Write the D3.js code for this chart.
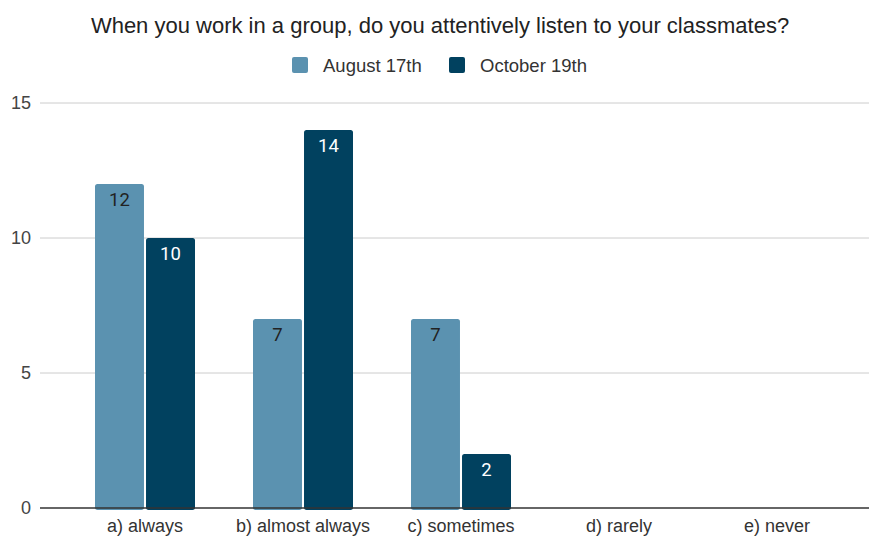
<!DOCTYPE html>
<html>
<head>
<meta charset="utf-8">
<script src="https://cdn.jsdelivr.net/npm/d3@7"></script>
<style>
  body { margin: 0; background: #fff; }
  text { font-family: "Liberation Sans", Arial, sans-serif; }
</style>
</head>
<body>
<div id="chart"></div>
<script>
// chart values
var categories = ['a) always', 'b) almost always', 'c) sometimes', 'd) rarely', 'e) never'];
var seriesNames = ['August 17th', 'October 19th'];
var august = [12, 7, 7, 0, 0];
var october = [10, 14, 2, 0, 0];
var yTicks = [0, 5, 10, 15];
var colors = ['#5b92b0', '#01415f'];

var width = 869, height = 536;

var svg = d3.select('#chart').append('svg')
	.attr('width', width)
	.attr('height', height);

var yScale = d3.scaleLinear()
	.domain([0, 15])
	.range([508, 103]);

var x0 = d3.scaleBand()
	.domain(categories)
	.range([66, 856]);

var x1 = d3.scaleBand()
	.domain(seriesNames)
	.range([0, 100])
	.paddingInner(0.04);

// title
svg.append('text')
	.attr('x', 440)
	.attr('y', 33)
	.attr('text-anchor', 'middle')
	.style('font-size', '22px')
	.style('fill', '#222')
	.text('When you work in a group, do you attentively listen to your classmates?');

// legend
var legend = svg.append('g');
var legendX = [292, 449];
seriesNames.forEach(function(name, i) {
	legend.append('rect')
		.attr('x', legendX[i])
		.attr('y', 57)
		.attr('width', 16)
		.attr('height', 16)
		.attr('rx', 2)
		.attr('fill', colors[i]);
	legend.append('text')
		.attr('x', legendX[i] + 31)
		.attr('y', 72)
		.style('font-size', '18.5px')
		.style('fill', '#333')
		.text(name);
});

// gridlines + y labels
var grid = svg.append('g');
yTicks.forEach(function(t) {
	if (t > 0) {
		grid.append('line')
			.attr('x1', 40).attr('x2', 869)
			.attr('y1', yScale(t)).attr('y2', yScale(t))
			.attr('stroke', '#cccccc')
			.attr('stroke-width', 1);
	}
	grid.append('text')
		.attr('x', 31)
		.attr('y', yScale(t) + 6)
		.attr('text-anchor', 'end')
		.style('font-size', '18px')
		.style('fill', '#444')
		.text(t);
});

// bars
var rows = categories.map(function(c, i) {
	return { cat: c, vals: [august[i], october[i]] };
});

var groups = svg.append('g').selectAll('g')
	.data(rows)
	.enter()
	.append('g')
	.attr('transform', function(d) {
		return 'translate(' + (x0(d.cat) + (x0.bandwidth() - 100) / 2) + ',0)';
	});

var bars = groups.selectAll('g')
	.data(function(d) {
		return d.vals.map(function(v, i) { return { s: seriesNames[i], v: v, i: i }; })
			.filter(function(e) { return e.v > 0; });
	})
	.enter()
	.append('g');

bars.append('rect')
	.attr('x', function(d) { return x1(d.s); })
	.attr('y', function(d) { return yScale(d.v); })
	.attr('width', x1.bandwidth())
	.attr('height', function(d) { return yScale(0) - yScale(d.v) + 2; })
	.attr('rx', 2.5)
	.attr('fill', function(d) { return colors[d.i]; });

bars.append('text')
	.attr('x', function(d) { return x1(d.s) + x1.bandwidth() / 2; })
	.attr('y', function(d) { return yScale(d.v) + 22; })
	.attr('text-anchor', 'middle')
	.style('font-family', 'Roboto, sans-serif')
	.style('font-size', '18.5px')
	.style('fill', function(d) { return d.i === 0 ? '#222' : '#fff'; })
	.text(function(d) { return d.v; });

// baseline
svg.append('line')
	.attr('x1', 40).attr('x2', 869)
	.attr('y1', yScale(0)).attr('y2', yScale(0))
	.attr('stroke', '#333')
	.attr('stroke-width', 1.3);

// x labels
var xAxis = d3.axisBottom(x0).tickSize(0).tickPadding(11);
var xg = svg.append('g')
	.attr('transform', 'translate(0,' + yScale(0) + ')')
	.call(xAxis);
xg.select('.domain').remove();
xg.selectAll('text')
	.style('font-family', '"Liberation Sans", Arial, sans-serif')
	.style('font-size', '18px')
	.style('fill', '#333');
</script>
</body>
</html>
